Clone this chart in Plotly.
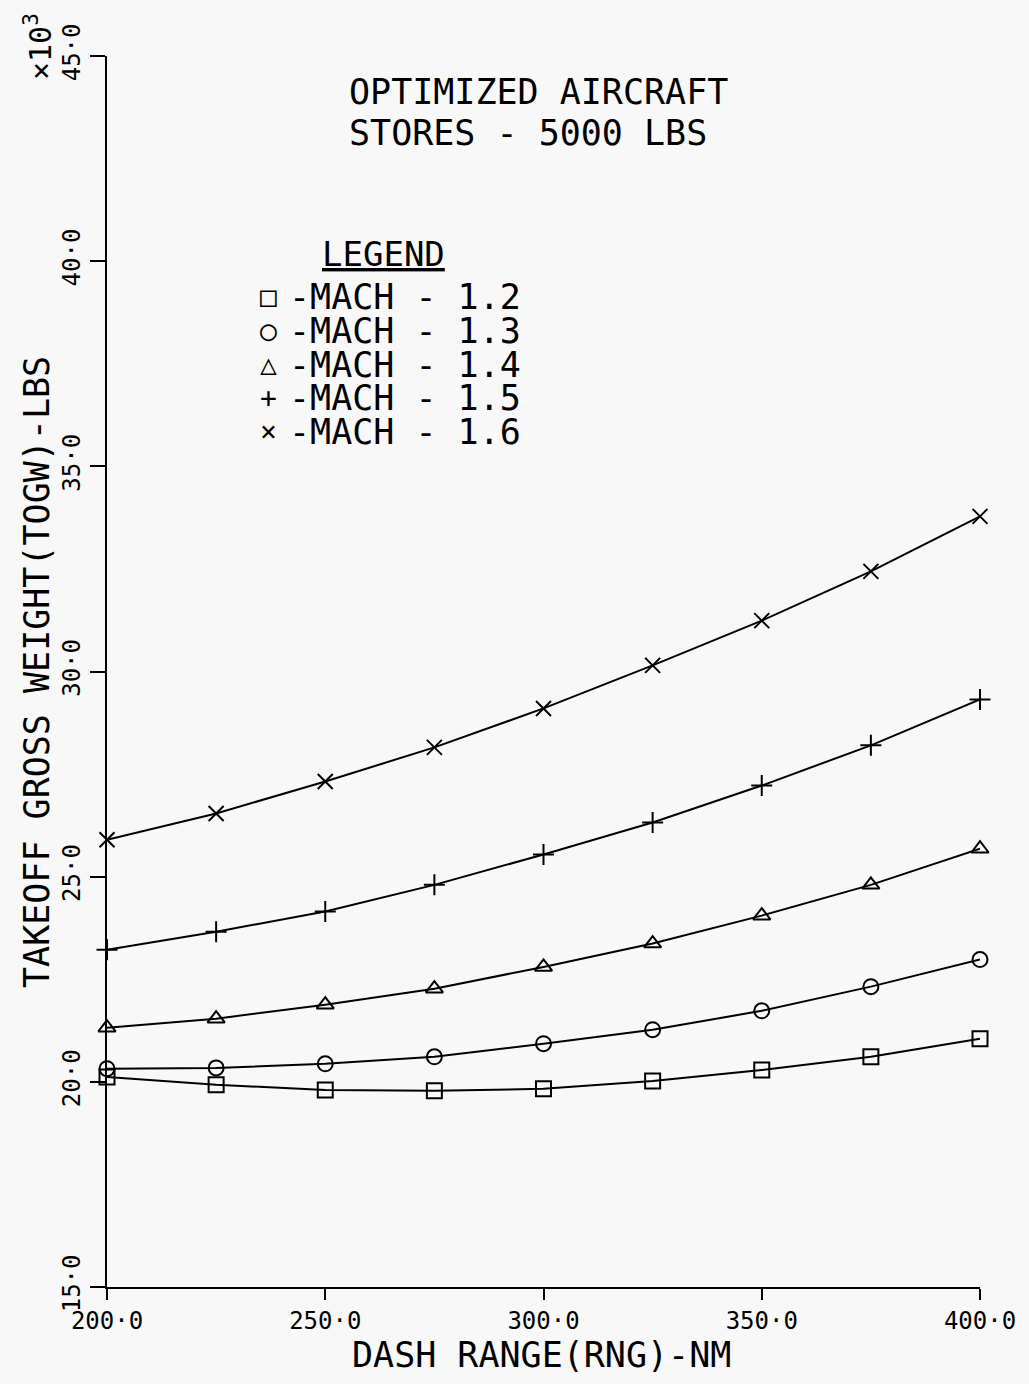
import plotly.graph_objects as go

dash_range = [200, 225, 250, 275, 300, 325, 350, 375, 400]
mach_labels = ["1.2", "1.3", "1.4", "1.5", "1.6"]
togw_m12 = [20.12, 19.93, 19.80, 19.78, 19.83, 20.02, 20.29, 20.61, 21.05]
togw_m13 = [20.32, 20.34, 20.44, 20.61, 20.93, 21.27, 21.73, 22.32, 22.98]
togw_m14 = [21.32, 21.54, 21.88, 22.27, 22.80, 23.37, 24.05, 24.80, 25.68]
togw_m15 = [23.22, 23.66, 24.15, 24.80, 25.54, 26.32, 27.22, 28.20, 29.32]
togw_m16 = [25.90, 26.54, 27.32, 28.15, 29.10, 30.15, 31.24, 32.44, 33.78]
x_ticks = [200, 250, 300, 350, 400]
x_tick_text = ["200·0", "250·0", "300·0", "350·0", "400·0"]
y_ticks = [15, 20, 25, 30, 35, 40, 45]
y_tick_text = ["15·0", "20·0", "25·0", "30·0", "35·0", "40·0", "45·0"]

series = [togw_m12, togw_m13, togw_m14, togw_m15, togw_m16]
symbols = ["square-open", "circle-open", "triangle-up-open", "cross-thin-open", "x-thin-open"]
legend_glyphs = ["□", "○", "△", "+", "×"]

FONT = "DejaVu Sans Mono"
W, H = 1029, 1384
L, R, T, B = 107, 49, 56, 97
pw, ph = W - L - R, H - T - B


def px(xp):
    return (xp - L) / pw


def py(yp):
    return (H - B - yp) / ph


fig = go.Figure()
for ys, sym, lab in zip(series, symbols, mach_labels):
    fig.add_trace(go.Scatter(
        x=dash_range, y=ys, mode="lines+markers", name="MACH - " + lab,
        line=dict(color="black", width=2),
        marker=dict(symbol=sym, size=15, color="black", line=dict(color="black", width=2)),
        cliponaxis=False, showlegend=False,
    ))

ann = []
ann.append(dict(x=px(347), y=py(92), text="OPTIMIZED AIRCRAFT", xanchor="left", yanchor="middle",
                font=dict(size=35, family=FONT, color="black")))
ann.append(dict(x=px(347), y=py(133), text="STORES - 5000 LBS", xanchor="left", yanchor="middle",
                font=dict(size=35, family=FONT, color="black")))
ann.append(dict(x=px(383), y=py(254), text="<u>LEGEND</u>", xanchor="center", yanchor="middle",
                font=dict(size=34, family=FONT, color="black")))
row_y = [296, 330, 364, 398, 432]
for g, yy in zip(legend_glyphs, row_y):
    ann.append(dict(x=px(268), y=py(yy), text=g, xanchor="center", yanchor="middle",
                    font=dict(size=28, family=FONT, color="black")))
legend_lines = "<br>".join('<span style="font-size:35px">-MACH - %s</span>' % lab for lab in mach_labels)
ann.append(dict(x=px(287), y=py(364), text=legend_lines, xanchor="left", yanchor="middle", align="left",
                font=dict(size=26, family=FONT, color="black")))
ann.append(dict(x=px(37), y=py(672), text="TAKEOFF GROSS WEIGHT(TOGW)-LBS", textangle=-90,
                xanchor="center", yanchor="middle", font=dict(size=35, family=FONT, color="black")))
ann.append(dict(x=px(541), y=py(1355), text="DASH RANGE(RNG)-NM", xanchor="center", yanchor="middle",
                font=dict(size=35, family=FONT, color="black")))
ann.append(dict(x=px(39), y=py(47), text="×10<sup>3</sup>", textangle=-90,
                xanchor="center", yanchor="middle", font=dict(size=30, family=FONT, color="black")))
for a in ann:
    a.update(xref="paper", yref="paper", showarrow=False)

axis_common = dict(showline=True, linecolor="black", linewidth=2, ticks="outside",
                   tickwidth=2, tickcolor="black", showgrid=False, zeroline=False,
                   tickfont=dict(size=24, family=FONT, color="black"))

fig.update_layout(
    width=W, height=H, margin=dict(l=L, r=R, t=T, b=B),
    paper_bgcolor="#f8f8f8", plot_bgcolor="#f8f8f8",
    xaxis=dict(range=[200, 400], tickvals=x_ticks, ticktext=x_tick_text, ticklen=11, **axis_common),
    yaxis=dict(range=[15, 45], tickvals=y_ticks, ticktext=y_tick_text, tickangle=-90, ticklen=15,
               **axis_common),
    annotations=ann, showlegend=False,
)

fig.write_html("out.html")
